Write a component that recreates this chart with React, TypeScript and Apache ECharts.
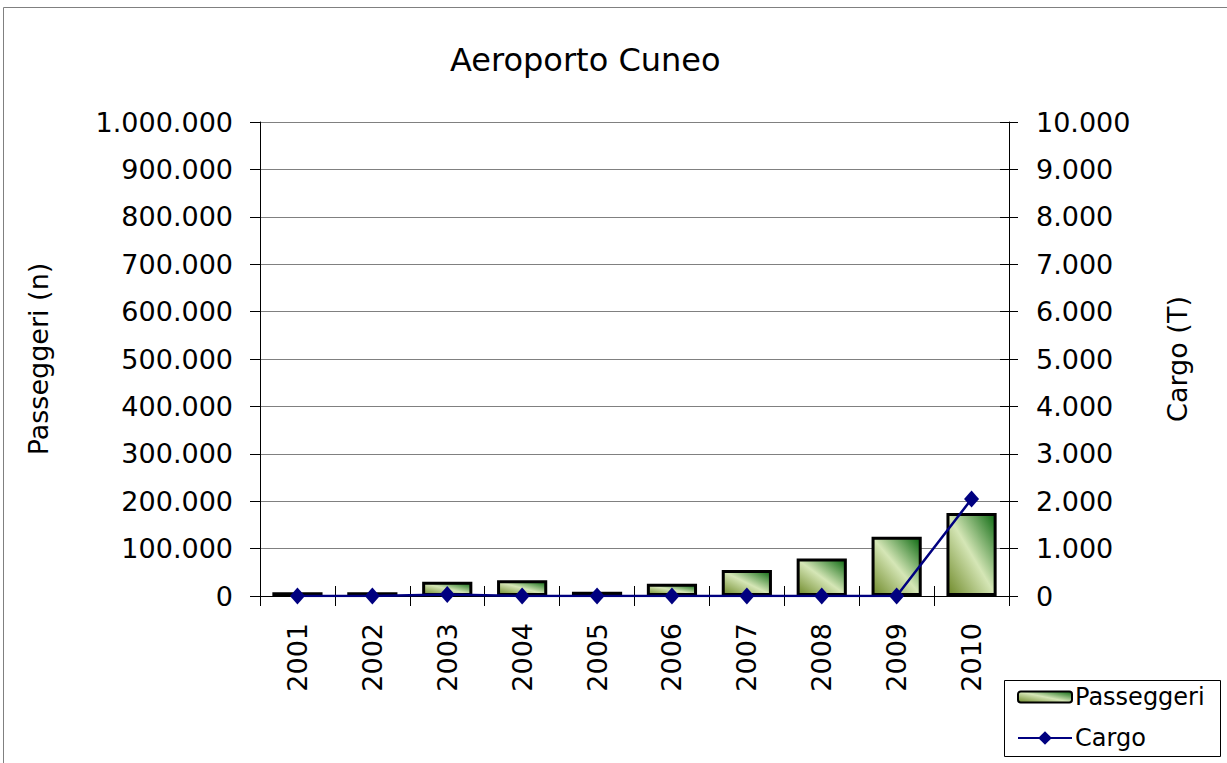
import React, { useEffect, useRef } from "react";
import * as echarts from "echarts";

const years = ["2001", "2002", "2003", "2004", "2005", "2006", "2007", "2008", "2009", "2010"];
const passeggeri = [8000, 8000, 30000, 33000, 9000, 26000, 55000, 79000, 125000, 175000];
const cargo = [0, 0, 30, 0, 0, 0, 0, 0, 0, 2045];
const leftMax = 1000000;
const leftStep = 100000;
const rightMax = 10000;
const rightStep = 1000;

const FONT = "DejaVu Sans";

function fmt(v: number): string {
  return String(v).replace(/\B(?=(\d{3})+(?!\d))/g, ".");
}

export default function App() {
  const ref = useRef<HTMLDivElement>(null);
  useEffect(() => {
    if (!ref.current) return;
    const chart = echarts.init(ref.current, undefined, { renderer: "svg" });
    const barGradient = new echarts.graphic.LinearGradient(0, 1, 1, 0, [
      { offset: 0, color: "#6f8a2a" },
      { offset: 0.5, color: "#d5e6b6" },
      { offset: 1, color: "#0d6a12" },
    ]);
    const legendText = { fontFamily: FONT, fontSize: 24, color: "#000", padding: [0, 0, 0, -2] };
    chart.setOption({
      animation: false,
      backgroundColor: "#ffffff",
      textStyle: { fontFamily: FONT, color: "#000" },
      title: {
        text: "Aeroporto Cuneo",
        left: 450,
        top: 44,
        padding: 0,
        textStyle: { fontFamily: FONT, fontSize: 32, fontWeight: "normal", color: "#000" },
      },
      graphic: [
        {
          type: "rect",
          shape: { x: 3.5, y: 7.5, width: 1240, height: 780 },
          style: { fill: "none", stroke: "#808080", lineWidth: 1 },
          silent: true,
          z: -10,
        },
        {
          type: "rect",
          shape: { x: 1004.5, y: 680.5, width: 216, height: 76 },
          style: { fill: "#fff", stroke: "#000", lineWidth: 1 },
          silent: true,
          z: 0,
        },
      ],
      legend: [
        {
          orient: "vertical",
          left: 1017,
          top: 685,
          padding: 0,
          itemWidth: 54,
          itemHeight: 11,
          z: 10,
          textStyle: legendText,
          data: ["Passeggeri"],
        },
        {
          orient: "vertical",
          left: 1017,
          top: 726,
          padding: 0,
          itemWidth: 54,
          itemHeight: 17,
          z: 10,
          textStyle: legendText,
          data: ["Cargo"],
        },
      ],
      grid: { left: 260, top: 122, right: 218, bottom: 167, containLabel: false },
      xAxis: [
        {
          type: "category",
          data: years,
          position: "bottom",
          axisLine: { lineStyle: { color: "#000", width: 1 } },
          axisTick: { show: true, length: 10, inside: false, lineStyle: { color: "#000" } },
          axisLabel: { rotate: 90, margin: 27, fontSize: 27, fontFamily: FONT, color: "#000" },
        },
        {
          type: "category",
          data: years,
          position: "bottom",
          axisLine: { show: false },
          axisTick: { show: true, length: 10, inside: true, lineStyle: { color: "#000" } },
          axisLabel: { show: false },
        },
      ],
      yAxis: [
        {
          type: "value",
          min: 0,
          max: leftMax,
          interval: leftStep,
          position: "left",
          name: "Passeggeri (n)",
          nameLocation: "middle",
          nameGap: 208,
          nameRotate: 90,
          nameTextStyle: { fontFamily: FONT, fontSize: 27, color: "#000" },
          axisLine: { show: true, lineStyle: { color: "#000", width: 1 } },
          axisTick: { show: true, length: 10, lineStyle: { color: "#000" } },
          axisLabel: { margin: 27, fontSize: 27, fontFamily: FONT, color: "#000", formatter: (v: number) => fmt(v) },
          splitLine: { show: true, lineStyle: { color: "#808080", width: 1 } },
        },
        {
          type: "value",
          min: 0,
          max: rightMax,
          interval: rightStep,
          position: "right",
          name: "Cargo (T)",
          nameLocation: "middle",
          nameGap: 155,
          nameRotate: 90,
          nameTextStyle: { fontFamily: FONT, fontSize: 27, color: "#000" },
          axisLine: { show: true, lineStyle: { color: "#000", width: 1 } },
          axisTick: { show: true, length: 9, lineStyle: { color: "#000" } },
          axisLabel: { margin: 27, fontSize: 27, fontFamily: FONT, color: "#000", formatter: (v: number) => fmt(v) },
          splitLine: { show: false },
        },
        {
          type: "value",
          min: 0,
          max: rightMax,
          interval: rightStep,
          position: "right",
          axisLine: { show: false },
          axisTick: { show: true, inside: true, length: 9, lineStyle: { color: "#000" } },
          axisLabel: { show: false },
          splitLine: { show: false },
        },
      ],
      series: [
        {
          name: "Passeggeri",
          type: "bar",
          xAxisIndex: 0,
          yAxisIndex: 0,
          data: passeggeri,
          barWidth: "67%",
          itemStyle: { color: barGradient, borderColor: "#000", borderWidth: 3 },
          z: 2,
        },
        {
          name: "Cargo",
          type: "line",
          xAxisIndex: 0,
          yAxisIndex: 1,
          data: cargo,
          symbol: "diamond",
          symbolSize: [15, 17],
          lineStyle: { color: "#000080", width: 2.5 },
          itemStyle: { color: "#000080" },
          z: 3,
        },
      ],
    });
    return () => chart.dispose();
  }, []);
  return (
    <div
      ref={ref}
      style={{ position: "absolute", left: 0, top: 0, width: 1227, height: 763 }}
    />
  );
}
